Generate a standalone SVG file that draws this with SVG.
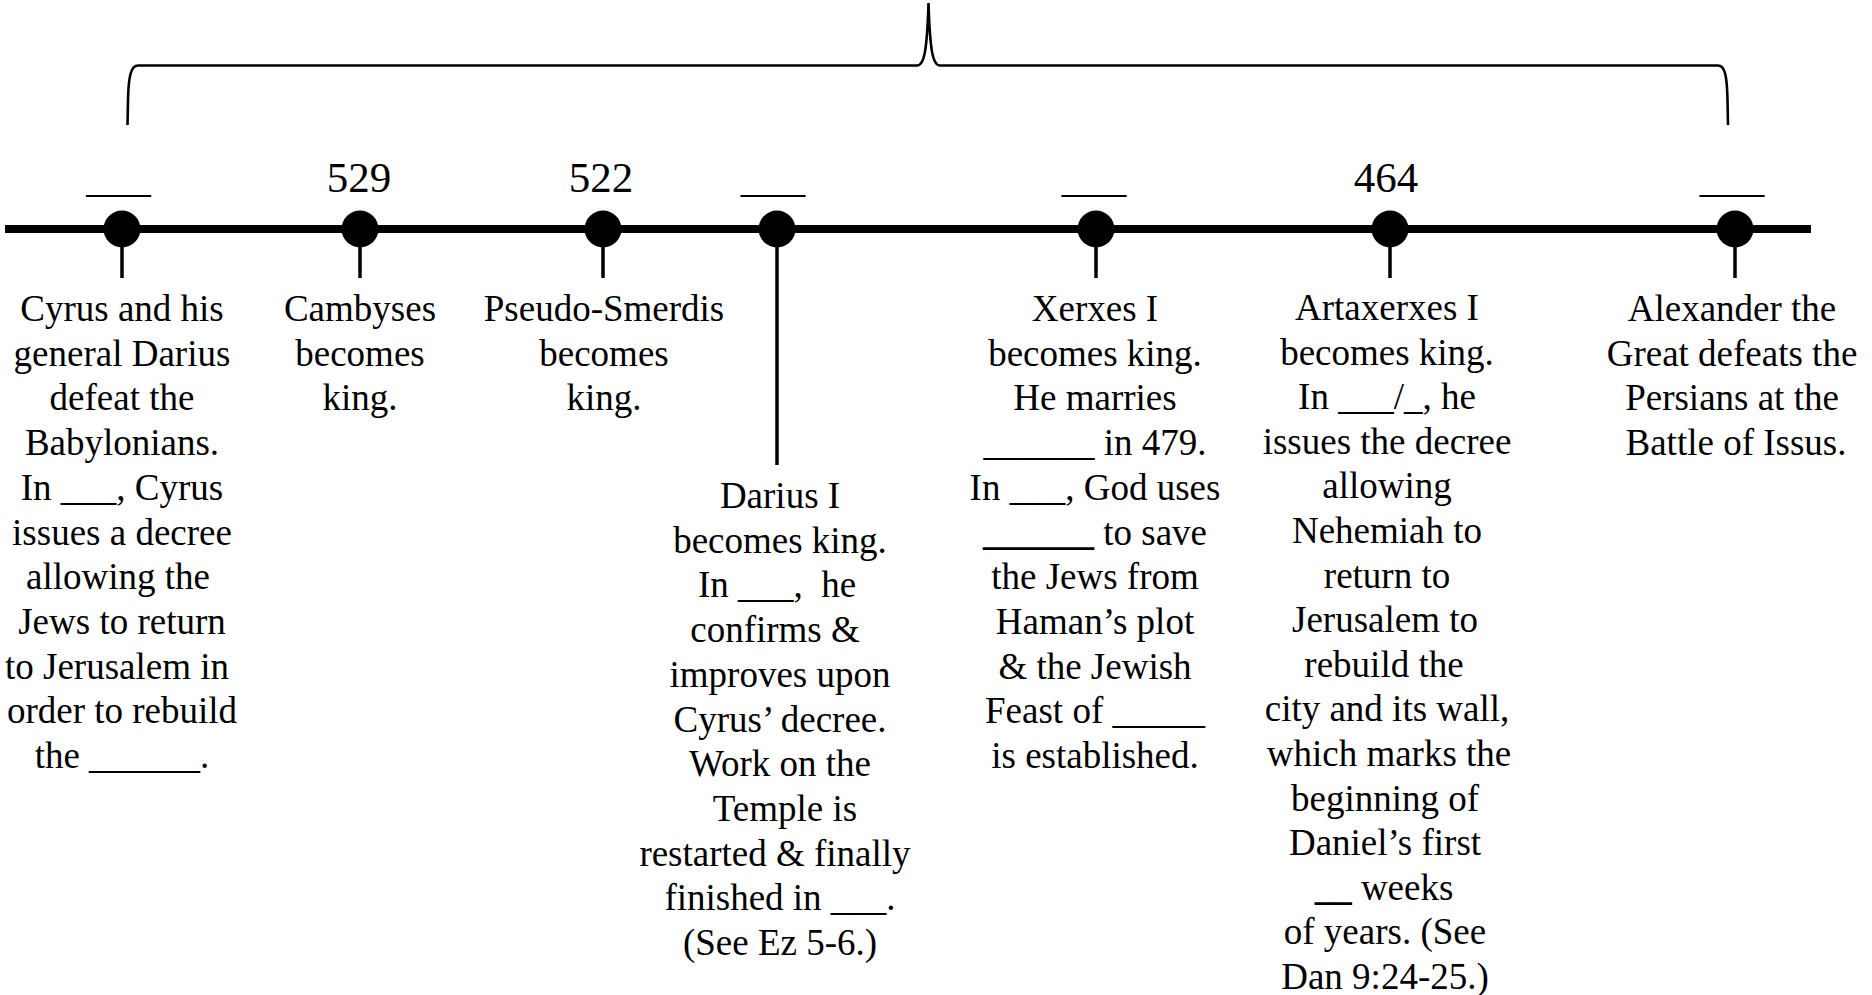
<svg xmlns="http://www.w3.org/2000/svg" width="1872" height="995" viewBox="0 0 1872 995">
<style>
.t{font-family:"Liberation Serif","Times New Roman",serif;font-size:37px;fill:#000;text-anchor:middle}
.n{font-family:"Liberation Serif","Times New Roman",serif;font-size:43px;fill:#000;text-anchor:middle}
.b{font-weight:bold}
.stem{stroke:#000;stroke-width:3.5;fill:none}
.dot{fill:#000}
</style>
<rect width="1872" height="995" fill="#fff"/>
<g id="connectors">
<path id="brace" d="M127.5,125 L128,100 C128.5,76 131,65.5 138,65.5 L917,65.5 C924,65.5 927,52 928.5,3 C930,52 933,65.5 940,65.5 L1718,65.5 C1725,65.5 1727,76 1727.5,100 L1728,125" fill="none" stroke="#000" stroke-width="2.6"/>
<line id="timeline" x1="5" y1="229" x2="1811" y2="229" stroke="#000" stroke-width="8"/>
<line class="stem" x1="122" y1="229" x2="122" y2="278"/>
<line class="stem" x1="360" y1="229" x2="360" y2="278"/>
<line class="stem" x1="603" y1="229" x2="603" y2="278"/>
<line class="stem" x1="777" y1="229" x2="777" y2="465"/>
<line class="stem" x1="1096" y1="229" x2="1096" y2="278"/>
<line class="stem" x1="1390" y1="229" x2="1390" y2="278"/>
<line class="stem" x1="1735" y1="229" x2="1735" y2="278"/>
</g>
<g id="node1">
<circle class="dot" cx="122" cy="229" r="18.5"/>
<text class="n" x="118.5" y="192">___</text>
<text class="t" y="321"><tspan x="122">Cyrus and his</tspan><tspan x="122" dy="44.7">general Darius</tspan><tspan x="122" dy="44.7">defeat the</tspan><tspan x="122" dy="44.7">Babylonians.</tspan><tspan x="122" dy="44.7">In ___, Cyrus</tspan><tspan x="122" dy="44.7">issues a decree</tspan><tspan x="118" dy="44.7">allowing the</tspan><tspan x="122" dy="44.7">Jews to return</tspan><tspan x="117" dy="44.7">to Jerusalem in</tspan><tspan x="122" dy="44.7">order to rebuild</tspan><tspan x="122" dy="44.7">the ______.</tspan></text>
</g>
<g id="node2">
<circle class="dot" cx="360" cy="229" r="18.5"/>
<text class="n" x="359" y="192">529</text>
<text class="t" y="321"><tspan x="360">Cambyses</tspan><tspan x="360" dy="44.7">becomes</tspan><tspan x="360" dy="44.7">king.</tspan></text>
</g>
<g id="node3">
<circle class="dot" cx="603" cy="229" r="18.5"/>
<text class="n" x="601" y="192">522</text>
<text class="t" y="321"><tspan x="604">Pseudo-Smerdis</tspan><tspan x="604" dy="44.7">becomes</tspan><tspan x="604" dy="44.7">king.</tspan></text>
</g>
<g id="node4">
<circle class="dot" cx="777" cy="229" r="18.5"/>
<text class="n" x="773" y="192">___</text>
<text class="t" y="508" xml:space="preserve"><tspan x="780">Darius I</tspan><tspan x="780" dy="44.7">becomes king.</tspan><tspan x="777" dy="44.7">In ___,  he</tspan><tspan x="775" dy="44.7">confirms &amp;</tspan><tspan x="780" dy="44.7">improves upon</tspan><tspan x="780" dy="44.7">Cyrus’ decree.</tspan><tspan x="780" dy="44.7">Work on the</tspan><tspan x="785" dy="44.7">Temple is</tspan><tspan x="775" dy="44.7">restarted &amp; finally</tspan><tspan x="780" dy="44.7">finished in ___.</tspan><tspan x="780" dy="44.7">(See Ez 5-6.)</tspan></text>
</g>
<g id="node5">
<circle class="dot" cx="1096" cy="229" r="18.5"/>
<text class="n" x="1094" y="192">___</text>
<text class="t" y="321"><tspan x="1095">Xerxes I</tspan><tspan x="1095" dy="44.7">becomes king.</tspan><tspan x="1095" dy="44.7">He marries</tspan><tspan x="1095" dy="44.7">______ in 479.</tspan><tspan x="1095" dy="44.7">In ___, God uses</tspan><tspan x="1095" dy="44.7"><tspan class="b">______</tspan> to save</tspan><tspan x="1095" dy="44.7">the Jews from</tspan><tspan x="1095" dy="44.7">Haman’s plot</tspan><tspan x="1095" dy="44.7">&amp; the Jewish</tspan><tspan x="1095" dy="44.7">Feast of _____</tspan><tspan x="1095" dy="44.7">is established.</tspan></text>
</g>
<g id="node6">
<circle class="dot" cx="1390" cy="229" r="18.5"/>
<text class="n" x="1386" y="192">464</text>
<text class="t" y="320"><tspan x="1387">Artaxerxes I</tspan><tspan x="1387" dy="44.6">becomes king.</tspan><tspan x="1387" dy="44.6">In ___/_, he</tspan><tspan x="1387" dy="44.6">issues the decree</tspan><tspan x="1387" dy="44.6">allowing</tspan><tspan x="1387" dy="44.6">Nehemiah to</tspan><tspan x="1387" dy="44.6">return to</tspan><tspan x="1385" dy="44.6">Jerusalem to</tspan><tspan x="1384" dy="44.6">rebuild the</tspan><tspan x="1387" dy="44.6">city and its wall,</tspan><tspan x="1389" dy="44.6">which marks the</tspan><tspan x="1385" dy="44.6">beginning of</tspan><tspan x="1385" dy="44.6">Daniel’s first</tspan><tspan x="1384" dy="44.6"><tspan class="b">__</tspan> weeks</tspan><tspan x="1385" dy="44.6">of years. (See</tspan><tspan x="1385" dy="44.6">Dan 9:24-25.)</tspan></text>
</g>
<g id="node7">
<circle class="dot" cx="1735" cy="229" r="18.5"/>
<text class="n" x="1732" y="192">___</text>
<text class="t" y="321"><tspan x="1732">Alexander the</tspan><tspan x="1732" dy="44.7">Great defeats the</tspan><tspan x="1732" dy="44.7">Persians at the</tspan><tspan x="1736" dy="44.7">Battle of Issus.</tspan></text>
</g>
</svg>
